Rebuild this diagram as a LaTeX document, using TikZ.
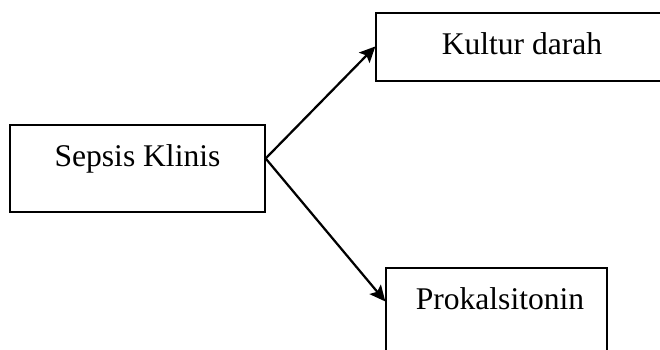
\documentclass[tikz,border=0pt]{standalone}
\usepackage{fontspec}
\setmainfont{Liberation Serif}
\usetikzlibrary{arrows.meta,fit}

\begin{document}
\begin{tikzpicture}[x=0.38pt,y=-0.38pt,
  box/.style={draw,line width=0.5pt,inner sep=0pt},
  lbl/.style={font=\fontsize{12}{14}\selectfont,anchor=base,inner sep=0pt,text height=1.5ex,text depth=.25ex},
  arr/.style={line width=0.85pt,-{Stealth[length=6pt,width=5.6pt,inset=1.2pt]}}]
\useasboundingbox (0,0) rectangle (660,349);
\clip (0,0) rectangle (660,349);

\node [box,fit={(10,125) (265,212)}] (sk) {};
\node [lbl] (sktxt) at (137.5,166) {Sepsis Klinis};

\node [box,fit={(376,13) (668,81)}] (kd) {};
\node [lbl] (kdtxt) at (522,54) {Kultur darah};

\node [box,fit={(386,268) (607,355)}] (pk) {};
\node [lbl] (pktxt) at (500,309) {Prokalsitonin};

\draw [arr] (sk.east |- sktxt) -- (kd.west |- kdtxt);
\draw [arr] (sk.east |- sktxt) -- (pk.west |- pktxt);
\end{tikzpicture}
\end{document}
